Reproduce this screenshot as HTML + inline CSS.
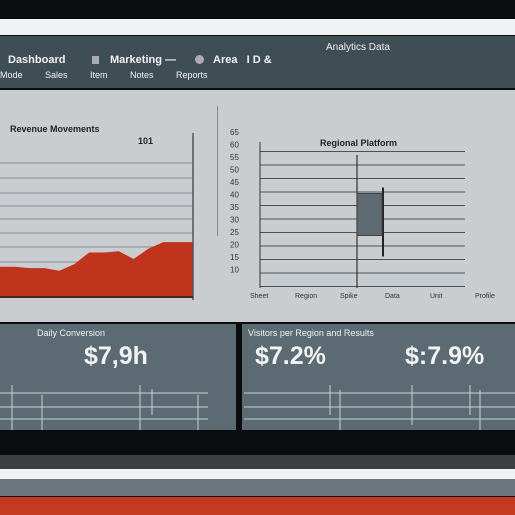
<!DOCTYPE html>
<html><head><meta charset="utf-8"><style>
body{margin:0;width:515px;height:515px;overflow:hidden;background:#0b0c0e;font-family:"Liberation Sans",sans-serif;position:relative}
div{position:absolute}
.t{font-size:9px;color:#222;white-space:nowrap}
.w{color:#f2f2f2}
</style></head><body>
<div style="left:0;top:0;width:515px;height:18px;background:#0b0c0e"></div>
<div style="left:0;top:19px;width:515px;height:16px;background:#eef2f5"></div>
<div style="left:0;top:36px;width:515px;height:52px;background:#3f4d55">
 <div class="t w" style="left:8px;top:18px;font-weight:bold;font-size:11px">Dashboard</div>
 <div style="left:92px;top:20px;width:7px;height:8px;background:#aab"></div>
 <div class="t w" style="left:110px;top:18px;font-weight:bold;font-size:11px">Marketing —</div>
 <div style="left:195px;top:19px;width:9px;height:9px;border-radius:50%;background:#aab"></div>
 <div class="t w" style="left:213px;top:18px;font-weight:bold;font-size:11px">Area &nbsp; I D &amp;</div>
 <div class="t w" style="left:326px;top:6px;font-size:10px">Analytics Data</div>
 <div class="t w" style="left:0;top:34px;font-size:9px;word-spacing:20px">Mode Sales Item Notes Reports</div>
</div>
<div style="left:0;top:90px;width:515px;height:232px;background:#c9cdd0">
 <div class="t" style="left:10px;top:34px;font-weight:bold">Revenue Movements</div>
 <div class="t" style="left:138px;top:46px;font-weight:bold">101</div>
 <div class="t" style="left:320px;top:48px;font-weight:bold">Regional Platform</div>
 <div style="left:217px;top:16px;width:1px;height:130px;background:#888"></div>
</div>
<svg style="position:absolute;left:0;top:0" width="515" height="322">
<g id="left"></g><g id="right"></g></svg>
<div style="left:0;top:324px;width:236px;height:106px;background:#5b6a73">
 <div class="t w" style="left:37px;top:4px;font-size:9px">Daily Conversion</div>
 <div class="t w" style="left:84px;top:18px;font-size:25px;font-weight:bold">$7,9h</div>
</div>
<div style="left:242px;top:324px;width:273px;height:106px;background:#5b6a73">
 <div class="t w" style="left:6px;top:4px;font-size:9px">Visitors per Region and Results</div>
 <div class="t w" style="left:13px;top:18px;font-size:25px;font-weight:bold">$7.2%</div>
 <div class="t w" style="left:163px;top:18px;font-size:25px;font-weight:bold">$:7.9%</div>
</div>
<svg style="position:absolute;left:0;top:385px" width="515" height="45">
 <g stroke="#c8d0d4" stroke-width="1" fill="none">
  <line x1="0" y1="8" x2="208" y2="8"/><line x1="0" y1="22" x2="208" y2="22"/><line x1="0" y1="34" x2="208" y2="34"/>
  <line x1="244" y1="8" x2="515" y2="8"/><line x1="244" y1="22" x2="515" y2="22"/><line x1="244" y1="34" x2="515" y2="34"/>
  <path d="M12 0V45M42 10V45M140 0V45M152 4V30M198 10V45M330 0V30M340 5V45M412 0V40M470 0V30M480 5V45"/>
 </g></svg>
<div style="left:0;top:455px;width:515px;height:14px;background:#3a3f44"></div>
<div style="left:0;top:469px;width:515px;height:10px;background:#eef2f5"></div>
<div style="left:0;top:479px;width:515px;height:17px;background:#6d767c"></div>
<div style="left:0;top:497px;width:515px;height:18px;background:#c4391f"></div>
<script>
const areaX=[0,1,2,3,4,5,6,7,8,9,10,11,12,13];
const areaY=[24,24,23,23,21,26,35,35,36,30,38,43,43,43];
const boxQ=[35,63];const whisker=[21,67];
const ns="http://www.w3.org/2000/svg";
function mk(p,t,a){const e=document.createElementNS(ns,t);for(const k in a)e.setAttribute(k,a[k]);p.appendChild(e);return e;}
const L=document.getElementById('left'),R=document.getElementById('right');
const lx=i=>i*(193/13), ly=v=>298-v*1.3;
[163,178,193,206,219,233,247,262].forEach(y=>{const g=mk(L,'line',{x1:0,x2:193,y1:y,y2:y,stroke:'#8a9095','stroke-width':1});});
let d='M0 298';areaX.forEach((x,i)=>d+=' L'+lx(x).toFixed(1)+' '+ly(areaY[i]).toFixed(1));d+=' L193 298Z';
const a=mk(L,'path',{d:d,fill:'#c0341d'});


mk(L,'line',{x1:193,x2:193,y1:133,y2:300,stroke:'#555','stroke-width':1.5});
mk(L,'line',{x1:0,x2:193,y1:297,y2:297,stroke:'#222','stroke-width':1.5});
const ry=v=>288-v*1.5;
for(let v=0;v<=90;v+=9){const g=mk(R,'line',{x1:260,x2:465,y1:ry(v+1),y2:ry(v+1),stroke:'#4a5258','stroke-width':1});}
mk(R,'line',{x1:260,x2:260,y1:142,y2:288,stroke:'#333'});
mk(R,'line',{x1:357,x2:357,y1:155,y2:288,stroke:'#333','stroke-width':1.2});
mk(R,'line',{x1:383,x2:383,y1:ry(whisker[1]),y2:ry(whisker[0]),stroke:'#222','stroke-width':2});
const b=mk(R,'rect',{x:357,y:ry(boxQ[1]),width:25,height:ry(boxQ[0])-ry(boxQ[1]),fill:'#5d6a72',stroke:'#444'});


const ticks=['65','60','55','50','45','40','35','30','25','20','15','10'];
ticks.forEach((t,i)=>{const e=mk(R,'text',{x:230,y:135+i*12.5,'font-size':8,fill:'#333','font-family':'Liberation Sans'});e.textContent=t;});
['Sheet','Region','Spike','Data','Unit','Profile'].forEach((t,i)=>{const e=mk(R,'text',{x:250+i*45,y:298,'font-size':7,fill:'#333','font-family':'Liberation Sans'});e.textContent=t;});
</script>
</body></html>
